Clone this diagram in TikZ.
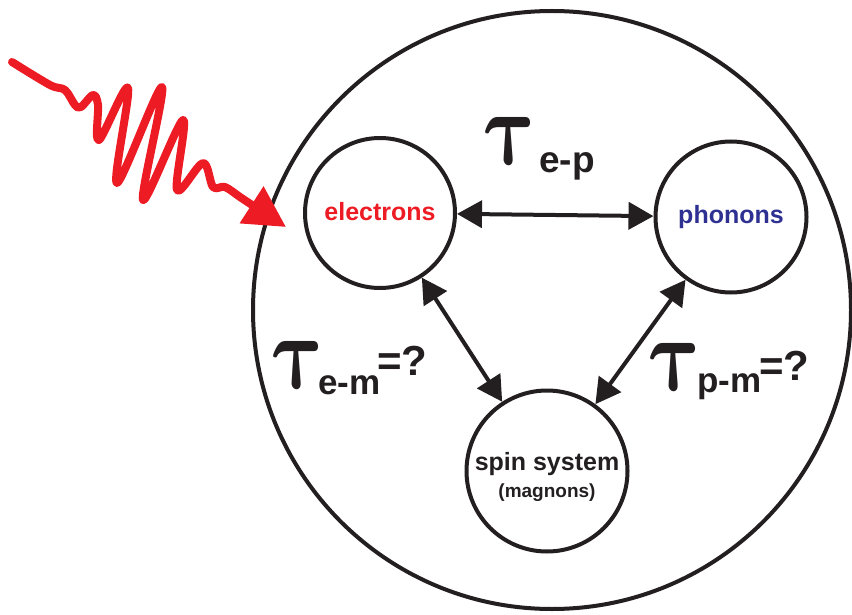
\documentclass[tikz,border=0pt]{standalone}
\usepackage{amsmath}
\usepackage{graphicx}
\usepackage{fontspec}
\setmainfont{Liberation Sans}
\usetikzlibrary{arrows.meta}
\definecolor{ink}{HTML}{231F20}
\definecolor{laserred}{HTML}{ED1C24}
\definecolor{phblue}{HTML}{2E3192}
\newcommand\fsz[1]{\fontsize{#1}{#1}\selectfont}
\newcommand\bigtau{\scalebox{8.2}[10.6]{\normalsize$\boldsymbol{\tau}$}}
\tikzset{
  bubble/.style={circle, draw=ink, line width=4pt, inner sep=0pt},
  link/.style={draw=ink, line width=4pt,
    {Triangle[length=25pt,width=27pt]}-{Triangle[length=25pt,width=27pt]}},
  taus/.style={text=ink, inner sep=0pt, anchor=base west, xslant=-0.2, transform shape},
  tlabel/.style={text=ink, inner sep=0pt, anchor=base west, font=\bfseries},
  wave/.style={draw=laserred, line width=8pt, line cap=round, line join=round,
    -{Triangle[length=41pt,width=42pt]}},
}
\begin{document}
\begin{tikzpicture}[x=1pt,y=-1pt]
\useasboundingbox (0,0) rectangle (852,615);
\node[bubble, minimum size=598pt] (sys) at (552,310) {};
\node[bubble, minimum size=150pt, text=laserred, font=\bfseries\fsz{25}] (el) at (380,213) {\raisebox{4pt}{electrons}};
\node[bubble, minimum size=151pt, text=phblue, font=\bfseries\fsz{25}] (ph) at (731,217) {\raisebox{3pt}{phonons}};
\node[bubble, minimum size=161pt] (sp) at (547,471) {};
\node[text=ink, font=\bfseries\fsz{25}, anchor=base, inner sep=0pt] (spt) at (547,470) {spin system};
\node[text=ink, font=\bfseries\fsz{19}, anchor=base, inner sep=0pt] (spm) at (547,497) {(magnons)};
\draw[link] (el) -- (ph);
\draw[link] (el) -- (sp);
\draw[link] (ph) -- (sp);
\node[taus] (tau1) at (489,165) {\bigtau};
\node[tlabel, font=\bfseries\fsz{37}] (sub1) at (539,173) {e-p};
\node[taus] (tau2) at (277,388) {\bigtau};
\node[tlabel, font=\bfseries\fsz{35}] (sub2) at (318,394) {e-m};
\node[tlabel, font=\bfseries\fsz{42}] (q2) at (377,375) {=?};
\node[taus] (tau3) at (654,390) {\bigtau};
\node[tlabel, font=\bfseries\fsz{35}] (sub3) at (697,392) {p-m};
\node[tlabel, font=\bfseries\fsz{42}] (q3) at (759,380) {=?};
\coordinate (src) at (12,62);
\coordinate (tip) at (286,227);
\draw[wave] plot[smooth, tension=0.55] coordinates {(12,62) (50,85) (65,90) (75,105) (81,107) (93,95) (98,105) (99,140) (128,88) (117,183) (162,87) (143,200) (183,120) (177,190) (203,163) (213,187) (225,187) (240,197) (255,207)} -- (tip);
\end{tikzpicture}
\end{document}
